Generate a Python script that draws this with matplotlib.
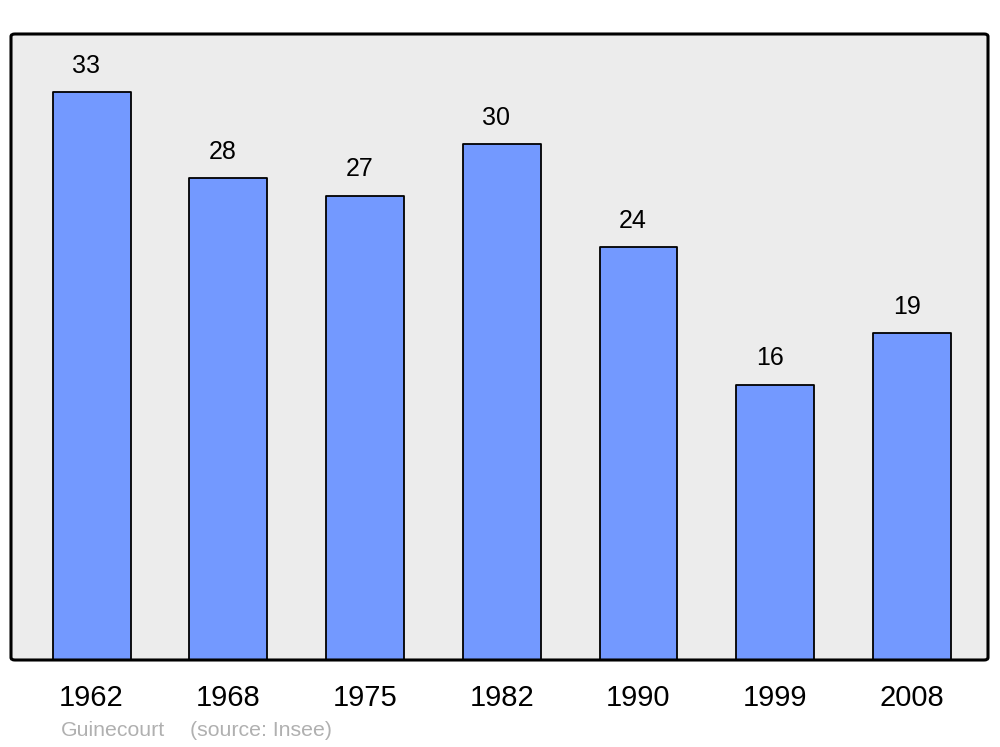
import matplotlib
matplotlib.use("Agg")
import matplotlib.pyplot as plt
from matplotlib.patches import FancyBboxPatch

years = ["1962", "1968", "1975", "1982", "1990", "1999", "2008"]
population = [33, 28, 27, 30, 24, 16, 19]

plt.rcParams['font.family'] = ['Liberation Sans', 'DejaVu Sans']

fig = plt.figure(figsize=(10, 7.47), dpi=100)
ax = fig.add_axes([11/1000, (747-660)/747, 977/1000, 626/747])
ax.set_facecolor('none')
for s in ax.spines.values():
    s.set_visible(False)

# rounded background frame
frame = FancyBboxPatch((0, 0), 1, 1,
                       boxstyle="round,pad=0,rounding_size=0.004",
                       transform=ax.transAxes, facecolor='#ececec',
                       edgecolor='none', zorder=0, clip_on=False)
ax.add_patch(frame)
frame2 = FancyBboxPatch((0, 0), 1, 1,
                        boxstyle="round,pad=0,rounding_size=0.004",
                        transform=ax.transAxes, facecolor='none',
                        edgecolor='black', linewidth=2.2, zorder=5, clip_on=False)
ax.add_patch(frame2)

x = list(range(len(years)))
bars = ax.bar(x, population, width=0.57, color='#7399ff', edgecolor='black',
              linewidth=1.3, zorder=2)
for b in bars:
    b.set_joinstyle('round')

ax.set_xlim(-0.589, 6.556)
ax.set_ylim(0, 626/17.2)

for xi, v in zip(x, population):
    ax.annotate(str(v), (xi - 0.04, v), xytext=(0, 19), textcoords='offset points',
                ha='center', va='center', fontsize=18, color='black')

ax.set_xticks(x)
ax.set_xticklabels(years, fontsize=21)
ax.tick_params(axis='x', length=0, pad=17)
ax.set_yticks([])

fig.text(61/1000, 1 - 730/747, "Guinecourt", fontsize=15.3,
         color='#b0b0b0', ha='left', va='center')
fig.text(190/1000, 1 - 730/747, "(source: Insee)", fontsize=15.3,
         color='#b0b0b0', ha='left', va='center')

fig.savefig("out.png", dpi=100)
